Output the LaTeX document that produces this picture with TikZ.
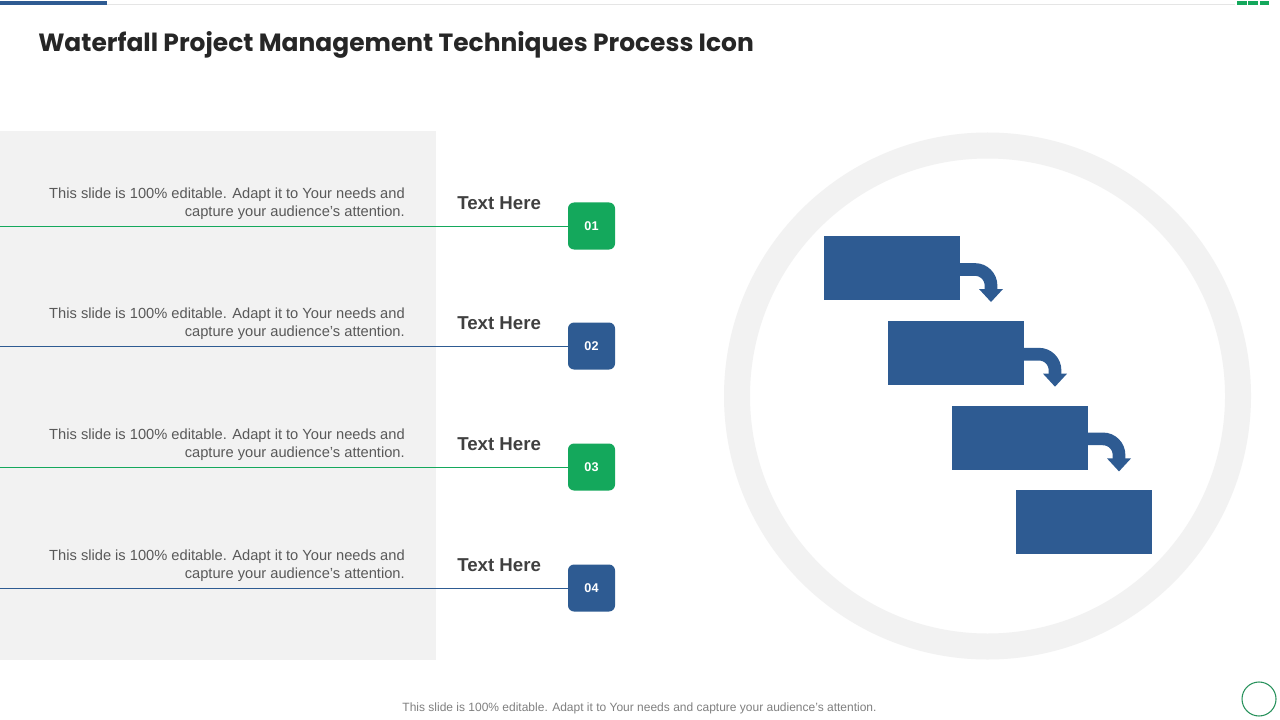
\documentclass[tikz,border=0pt]{standalone}
\usepackage{fontspec}
\setmainfont{Liberation Sans}
\newfontfamily\titlefont{Poppins}
\definecolor{wblue}{HTML}{2E5B92}
\definecolor{wgreen}{HTML}{14A85C}
\definecolor{panel}{HTML}{F2F2F2}
\definecolor{desc}{HTML}{595959}
\definecolor{head}{HTML}{404040}
\tikzset{
  numbox/.style={rounded corners=4.5pt, minimum width=35.25pt, minimum height=35.25pt, inner sep=0pt, text=white, font=\bfseries\fontsize{9.5}{11}\selectfont},
  headtxt/.style={anchor=west, inner sep=0pt, text=head, font=\bfseries\fontsize{14}{16}\selectfont},
  desctxt/.style={anchor=east, inner sep=0pt, align=right, text=desc, font=\fontsize{11}{13.8}\selectfont},
  stepblock/.style={fill=wblue, draw=none, minimum width=102pt, minimum height=48pt, inner sep=0pt, anchor=north west},
  bendarrow/.style={draw=wblue, line width=9.5pt},
  tipfill/.style={fill=wblue, draw=none},
  connector/.style={line width=0.7pt}
}
\begin{document}
\begin{tikzpicture}[x=0.75pt,y=-0.75pt]
\useasboundingbox (0,0) rectangle (1280,720);
\fill[white] (0,0) rectangle (1280,720);
% top decoration
\fill[wblue] (0,1) rectangle (107,5.5);
\fill[black!10] (107,3.8) rectangle (1235,5.2);
\foreach \i in {0,1,2} \fill[wgreen] (1237+\i*11.3,0.8) rectangle (1246.5+\i*11.3,5.5);
% title
\node[anchor=base west, inner sep=0pt, text=black!85, font=\titlefont\bfseries\fontsize{18.7}{22}\selectfont] (title) at (38,52) {Waterfall Project Management Techniques Process Icon};
% panel
\fill[panel] (0,131) rectangle (436,660);
% rows
\foreach \n/\y/\c in {1/226/wgreen,2/346/wblue,3/467/wgreen,4/588/wblue}{
  \node[numbox, fill=\c] (b\n) at (591.5,\y) {0\n};
  \coordinate (l\n) at (0,\y);
  \draw[connector, draw=\c] (l\n) -- (b\n.west);
  \node[headtxt] (h\n) at (457,\y-23) {Text Here};
  \node[desctxt] (d\n) at (405,\y-22) {This slide is 100\% editable. Adapt it to Your needs and\\capture your audience’s attention.};
}
% big ring
\draw[panel, line width=19.5pt] (987.5,396) circle (250.5);
% steps
\foreach \n in {0,1,2,3}{
  \node[stepblock] (s\n) at (824+\n*64,236+\n*84.7) {};
}
\foreach \n in {0,1,2}{
  \begin{scope}[shift={(\n*64,\n*84.7)}]
    \draw[bendarrow] (958,269.5) -- (975,269.5) arc[start angle=-90, end angle=0, radius=16] -- (991,290);
    \fill[tipfill] (979,289) -- (1003,289) -- (991,302) -- cycle;
  \end{scope}
}
% footer
\node[inner sep=0pt, text=black!50, font=\fontsize{9}{11}\selectfont] (foot) at (639.5,708.5) {This slide is 100\% editable. Adapt it to Your needs and capture your audience’s attention.};
\draw[wgreen!80!black!90, line width=0.8pt] (1259,699) circle (17);
\end{tikzpicture}
\end{document}
